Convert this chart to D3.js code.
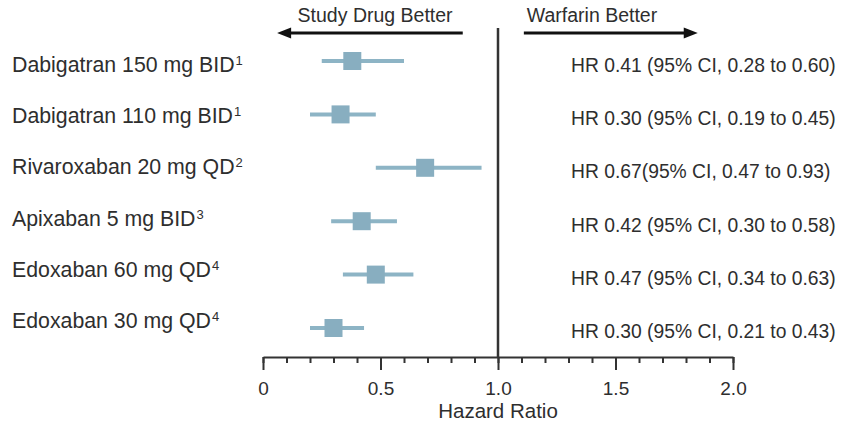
<!DOCTYPE html>
<html>
<head>
<meta charset="utf-8">
<script src="https://cdn.jsdelivr.net/npm/d3@7"></script>
<style>
  body { margin: 0; background: #fff; }
  text { font-family: "Liberation Sans", Arial, Helvetica, sans-serif; fill: #2e2e2e; }
</style>
</head>
<body>
<div id="chart"></div>
<script>
// forest plot data
var drugs = ["Dabigatran 150 mg BID", "Dabigatran 110 mg BID", "Rivaroxaban 20 mg QD",
             "Apixaban 5 mg BID", "Edoxaban 60 mg QD", "Edoxaban 30 mg QD"];
var refs = ["1", "1", "2", "3", "4", "4"];
var hr = [0.38, 0.33, 0.69, 0.42, 0.48, 0.30];
var ciLow = [0.25, 0.20, 0.48, 0.29, 0.34, 0.20];
var ciHigh = [0.60, 0.48, 0.93, 0.57, 0.64, 0.43];
var hrText = ["HR 0.41 (95% CI, 0.28 to 0.60)", "HR 0.30 (95% CI, 0.19 to 0.45)",
              "HR 0.67(95% CI, 0.47 to 0.93)", "HR 0.42 (95% CI, 0.30 to 0.58)",
              "HR 0.47 (95% CI, 0.34 to 0.63)", "HR 0.30 (95% CI, 0.21 to 0.43)"];
var majorTicks = [0, 0.5, 1, 1.5, 2];
var tickLabels = ["0", "0.5", "1.0", "1.5", "2.0"];
var minorTicks = d3.range(0, 2.01, 0.1);

var width = 842, height = 421;
var axisY = 357;
var markColor = "#88aec0";

var svg = d3.select("#chart").append("svg")
    .attr("width", width)
    .attr("height", height);

var x = d3.scaleLinear().domain([0, 2]).range([263, 733]);
// rows: markers, labels and HR text sit on slightly different lines
var y = d3.scalePoint().domain(drugs).range([61, 328]);
var yLabel = d3.scalePoint().domain(drugs).range([72, 328]);
var yText = d3.scalePoint().domain(drugs).range([72, 338]);

var rows = drugs.map(function(d, i) {
  return {drug: d, ref: refs[i], hr: hr[i], lo: ciLow[i], hi: ciHigh[i], txt: hrText[i]};
});

// minor ticks
svg.append("g")
  .attr("transform", "translate(0," + axisY + ")")
  .call(d3.axisBottom(x).tickValues(minorTicks).tickSize(6).tickSizeOuter(0).tickFormat(""))
  .call(function(g) { g.select(".domain").remove(); })
  .selectAll("line").attr("stroke", "#333").attr("stroke-width", 2);

// major ticks + axis line
var xAxis = svg.append("g")
  .attr("transform", "translate(0," + axisY + ")")
  .call(d3.axisBottom(x).tickValues(majorTicks).tickSize(13).tickSizeOuter(0).tickPadding(12)
    .tickFormat(function(d, i) { return tickLabels[i]; }));
xAxis.attr("font-size", null).attr("font-family", null);
xAxis.select(".domain").attr("stroke", "#333").attr("stroke-width", 2);
xAxis.selectAll(".tick line").attr("stroke", "#333").attr("stroke-width", 2);
xAxis.selectAll(".tick text")
  .attr("font-size", 19)
  .style("font-size", "19px")
  .attr("fill", "#2e2e2e");

svg.append("text")
  .attr("x", x(1))
  .attr("y", 418)
  .attr("text-anchor", "middle")
  .style("font-size", "20.5px")
  .text("Hazard Ratio");

// line of no effect
svg.append("line")
  .attr("x1", x(1)).attr("x2", x(1))
  .attr("y1", 28).attr("y2", axisY)
  .attr("stroke", "#333")
  .attr("stroke-width", 2.5);

// direction arrows
var arrows = [
  {from: 0.85, to: 0.06, label: "Study Drug Better", mid: 0.477},
  {from: 1.11, to: 1.85, label: "Warfarin Better", mid: 1.40}
];
arrows.forEach(function(a) {
  var dir = a.to > a.from ? 1 : -1;
  var tip = x(a.to);
  svg.append("line")
    .attr("x1", x(a.from)).attr("x2", tip - dir * 10)
    .attr("y1", 33).attr("y2", 33)
    .attr("stroke", "#111")
    .attr("stroke-width", 3.2);
  svg.append("path")
    .attr("d", "M" + tip + ",33 L" + (tip - dir * 14) + ",27.5 L" + (tip - dir * 14) + ",38.5 Z")
    .attr("fill", "#111");
  svg.append("text")
    .attr("x", x(a.mid))
    .attr("y", 22)
    .attr("text-anchor", "middle")
    .style("font-size", "19.5px")
    .text(a.label);
});

// CI lines
svg.selectAll(".ci")
  .data(rows)
  .enter().append("line")
  .attr("class", "ci")
  .attr("x1", function(d) { return x(d.lo); })
  .attr("x2", function(d) { return x(d.hi); })
  .attr("y1", function(d) { return y(d.drug); })
  .attr("y2", function(d) { return y(d.drug); })
  .attr("stroke", "#8db4c5")
  .attr("stroke-width", 4);

// HR squares
var sq = 18;
svg.selectAll(".hr")
  .data(rows)
  .enter().append("rect")
  .attr("class", "hr")
  .attr("x", function(d) { return x(d.hr) - sq / 2; })
  .attr("y", function(d) { return y(d.drug) - sq / 2; })
  .attr("width", sq)
  .attr("height", sq)
  .attr("fill", markColor);

// drug labels with superscript refs
var lab = svg.selectAll(".label")
  .data(rows)
  .enter().append("text")
  .attr("class", "label")
  .attr("x", 12)
  .attr("y", function(d) { return yLabel(d.drug); })
  .style("font-size", "21.3px");
lab.append("tspan").text(function(d) { return d.drug; });
lab.append("tspan")
  .attr("dx", 1)
  .attr("dy", -7)
  .style("font-size", "13px")
  .text(function(d) { return d.ref; });

// HR text
svg.selectAll(".hrtxt")
  .data(rows)
  .enter().append("text")
  .attr("class", "hrtxt")
  .attr("x", 571)
  .attr("y", function(d) { return yText(d.drug); })
  .style("font-size", "19.3px")
  .text(function(d) { return d.txt; });
</script>
</body>
</html>
